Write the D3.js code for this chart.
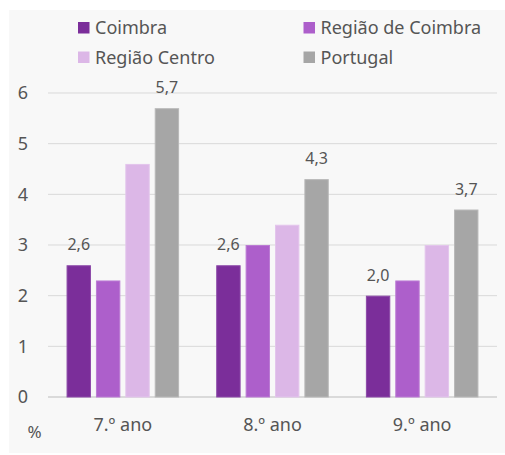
<!DOCTYPE html>
<html>
<head>
<meta charset="utf-8">
<script src="https://cdn.jsdelivr.net/npm/d3@7"></script>
<style>
  body { margin: 0; background: #ffffff; }
  text { font-family: "Noto Sans", "Open Sans", sans-serif; fill: #555555; }
</style>
</head>
<body>
<div id="chart"></div>
<script>
const groups = ['7.º ano', '8.º ano', '9.º ano'];
const series = ['Coimbra', 'Região de Coimbra', 'Região Centro', 'Portugal'];
const coimbra = [2.6, 2.6, 2.0];
const regiaoCoimbra = [2.3, 3.0, 2.3];
const regiaoCentro = [4.6, 3.4, 3.0];
const portugal = [5.7, 4.3, 3.7];
const yTicks = [0, 1, 2, 3, 4, 5, 6];
const labelled = ['Coimbra', 'Portugal'];

const colors = ['#7B2E9A', '#AD5FCB', '#DCB7E7', '#A6A6A6'];
const strokes = ['#8C49A8', '#BB7BD4', '#E3C5EC', '#B8B8B8'];

const width = 505, height = 455;
const margin = {left: 48, right: 8, top: 93, bottom: 58};

let rows = groups.map((g, i) => ({
    group: g,
    values: [coimbra[i], regiaoCoimbra[i], regiaoCentro[i], portugal[i]]
}));

let svg = d3.select('#chart').append('svg')
    .attr('width', width)
    .attr('height', height);

// chart area background
svg.append('rect')
    .attr('x', 9).attr('y', 10)
    .attr('width', width - 9).attr('height', height - 12)
    .attr('fill', '#f8f8f8');

let x0 = d3.scaleBand()
    .domain(groups)
    .range([margin.left, width - margin.right])
    .paddingInner(0.248)
    .paddingOuter(0.124);

let x1 = d3.scaleBand()
    .domain(series)
    .range([0, x0.bandwidth()])
    .paddingInner(0.17);

let y = d3.scaleLinear()
    .domain([0, 6])
    .range([height - margin.bottom, margin.top]);

// grid lines
svg.append('g')
    .selectAll('line')
    .data(yTicks)
    .enter().append('line')
    .attr('x1', margin.left)
    .attr('x2', width - margin.right)
    .attr('y1', d => y(d))
    .attr('y2', d => y(d))
    .attr('stroke', d => d === 0 ? '#d0d0d0' : '#d9d9d9')
    .attr('stroke-width', d => d === 0 ? 1.5 : 1);

// y tick labels
svg.append('g')
    .selectAll('text')
    .data(yTicks)
    .enter().append('text')
    .attr('x', 28)
    .attr('y', d => y(d))
    .attr('dy', '0.36em')
    .attr('text-anchor', 'end')
    .style('font-size', '18px')
    .text(d => d);

// bars
let g = svg.append('g')
    .selectAll('g')
    .data(rows)
    .enter().append('g')
    .attr('transform', d => `translate(${x0(d.group)},0)`);

g.selectAll('rect')
    .data(d => d.values.map((v, i) => ({key: series[i], value: v, i: i})))
    .enter().append('rect')
    .attr('x', d => x1(d.key) + 0.5)
    .attr('y', d => y(d.value) + 0.5)
    .attr('width', x1.bandwidth() - 1)
    .attr('height', d => y(0) - y(d.value) - 0.5)
    .attr('fill', d => colors[d.i])
    .attr('stroke', d => strokes[d.i])
    .attr('stroke-width', 1);

// data labels
g.selectAll('text')
    .data(d => d.values.map((v, i) => ({key: series[i], value: v})).filter(d => labelled.includes(d.key)))
    .enter().append('text')
    .attr('x', d => x1(d.key) + x1.bandwidth() / 2)
    .attr('y', d => y(d.value) - 15)
    .attr('text-anchor', 'middle')
    .style('font-size', '16px')
    .text(d => d3.format('.1f')(d.value).replace('.', ','));

// category labels
svg.append('g')
    .selectAll('text')
    .data(groups)
    .enter().append('text')
    .attr('x', d => x0(d) + x0.bandwidth() / 2)
    .attr('y', 431)
    .attr('text-anchor', 'middle')
    .style('font-size', '18px')
    .text(d => d);

svg.append('text')
    .attr('x', 34.5)
    .attr('y', 438)
    .attr('text-anchor', 'middle')
    .style('font-size', '17px')
    .text('%');

// legend
let legend = svg.append('g')
    .selectAll('g')
    .data(series)
    .enter().append('g')
    .attr('transform', (d, i) => `translate(${i % 2 === 0 ? 78 : 303.5},${i < 2 ? 22 : 51.5})`);

legend.append('rect')
    .attr('width', 11.5)
    .attr('height', 11.5)
    .attr('fill', (d, i) => colors[i]);

legend.append('text')
    .attr('x', 17)
    .attr('y', 12)
    .style('font-size', '18px')
    .text(d => d);
</script>
</body>
</html>
